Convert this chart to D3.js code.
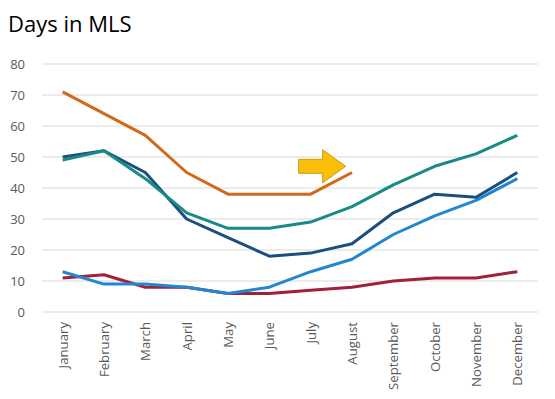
<!DOCTYPE html>
<html>
<head>
<meta charset="utf-8">
<script src="https://cdn.jsdelivr.net/npm/d3@7"></script>
<style>
  body { margin: 0; background: #fff; }
  svg { font-family: "Open Sans", "Noto Sans", sans-serif; }
</style>
</head>
<body>
<div class="canvas"></div>
<script>
// data
const months = ['January', 'February', 'March', 'April', 'May', 'June', 'July',
    'August', 'September', 'October', 'November', 'December']
const yTicks = [0, 10, 20, 30, 40, 50, 60, 70, 80]
const orangeVals = [71, 64, 57, 45, 38, 38, 38, 45]
const tealVals = [49, 52, 43, 32, 27, 27, 29, 34, 41, 47, 51, 57]
const navyVals = [50, 52, 45, 30, 24, 18, 19, 22, 32, 38, 37, 45]
const blueVals = [13, 9, 9, 8, 6, 8, 13, 17, 25, 31, 36, 43]
const redVals = [11, 12, 8, 8, 6, 6, 7, 8, 10, 11, 11, 13]

const series = [
    { values: redVals, color: '#A3203C' },
    { values: blueVals, color: '#2187D0' },
    { values: navyVals, color: '#1B4F7E' },
    { values: tealVals, color: '#198A86' },
    { values: orangeVals, color: '#D2691A' }
]

const width = 555, height = 399
const svg = d3.select('.canvas')
    .append('svg')
    .attr('width', width)
    .attr('height', height)

const margin = { top: 64, right: 17, bottom: 87, left: 42 }
const graphWidth = width - margin.left - margin.right
const graphHeight = height - margin.top - margin.bottom

const graph = svg.append('g')
    .attr('transform', `translate(${margin.left},${margin.top})`)

// scales
const x = d3.scalePoint()
    .domain(months)
    .range([0, graphWidth])
    .padding(0.5)
const y = d3.scaleLinear()
    .domain([0, 80])
    .range([graphHeight, 0])

// title
svg.append('text')
    .attr('x', 8)
    .attr('y', 32)
    .attr('font-size', 22)
    .attr('fill', '#000')
    .text('Days in MLS')

// gridlines
graph.append('g')
    .selectAll('line')
    .data(yTicks)
    .enter()
    .append('line')
    .attr('x1', 0)
    .attr('x2', graphWidth)
    .attr('y1', d => y(d))
    .attr('y2', d => y(d))
    .attr('stroke', '#D9D9D9')
    .attr('stroke-width', 1)

// y axis
const yAxis = d3.axisLeft(y).tickValues(yTicks).tickSize(0).tickPadding(17)
const yAxisGroup = graph.append('g').call(yAxis)
yAxisGroup.select('.domain').remove()
yAxisGroup.selectAll('text')
    .attr('font-size', 13)
    .attr('fill', '#595959')
    .style('font-family', '"Open Sans", sans-serif')

// x axis
const xAxis = d3.axisBottom(x).tickSize(0).tickPadding(0)
const xAxisGroup = graph.append('g')
    .attr('transform', `translate(0,${graphHeight})`)
    .call(xAxis)
xAxisGroup.select('.domain').remove()
xAxisGroup.selectAll('text')
    .attr('transform', 'rotate(-90)')
    .attr('text-anchor', 'end')
    .attr('x', -10)
    .attr('y', 0)
    .attr('dy', '0.35em')
    .attr('font-size', 13.2)
    .attr('fill', '#595959')
    .style('font-family', '"Open Sans", sans-serif')

// lines
const line = d3.line()
    .x((d, i) => x(months[i]))
    .y(d => y(d))

graph.selectAll('path.series')
    .data(series)
    .enter()
    .append('path')
    .attr('class', 'series')
    .attr('d', d => line(d.values))
    .attr('fill', 'none')
    .attr('stroke', d => d.color)
    .attr('stroke-width', 3)
    .attr('stroke-linejoin', 'round')

// arrow callout near August
const ax = x('July') - 12, ay = y(47)
const arrowPts = [[0, -7], [24, -7], [24, -16.5], [47, 0], [24, 16.5], [24, 7], [0, 7]]
graph.append('polygon')
    .attr('points', arrowPts.map(p => [ax + p[0], ay + p[1]].join(',')).join(' '))
    .attr('fill', '#FBBF0A')
    .attr('stroke', '#C99A10')
    .attr('stroke-width', 1)
</script>
</body>
</html>
